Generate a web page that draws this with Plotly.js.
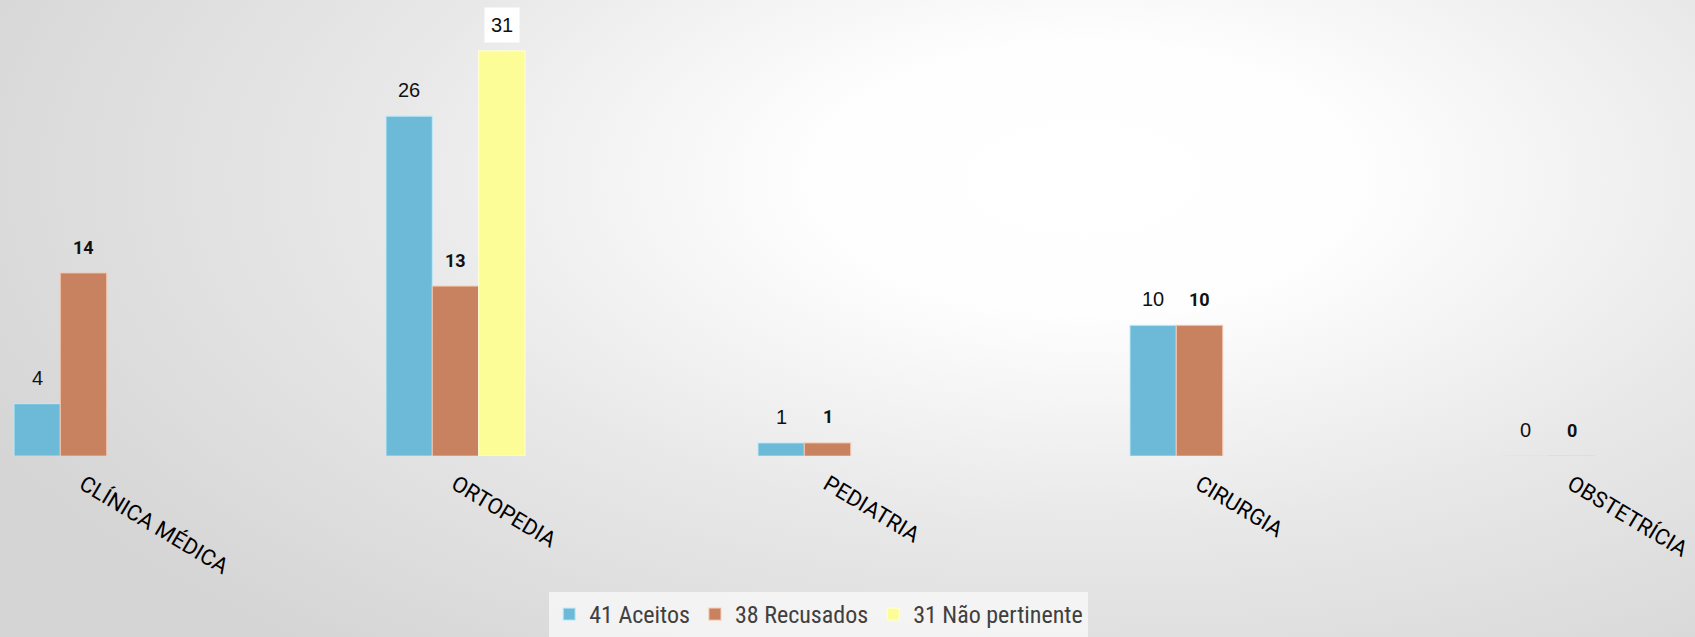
<!DOCTYPE html>
<html>
<head>
<meta charset="utf-8">
<script src="https://cdn.plot.ly/plotly-3.0.1.min.js"></script>
<style>
  html, body { margin: 0; padding: 0; }
  body {
    width: 1695px; height: 637px; overflow: hidden;
    background: radial-gradient(ellipse 72% 95% at 64% 28%, #ffffff 0%, #fefefe 22%, #e8e8e8 58%, #d5d5d5 100%);
  }
  #chart { width: 1695px; height: 637px; }
</style>
</head>
<body>
<div id="chart"></div>
<script>
const categories = ["CLÍNICA MÉDICA", "ORTOPEDIA", "PEDIATRIA", "CIRURGIA", "OBSTETRÍCIA"];
const seriesNames = ["41 Aceitos", "38 Recusados", "31 Não pertinente"];
const aceitos = [4, 26, 1, 10, 0];
const recusados = [14, 13, 1, 10, 0];
const naoPertinente = [null, 31, null, null, null];

const seriesValues = [aceitos, recusados, naoPertinente];
const colors = ["#6cbad7", "#c9825f", "#fdfd98"];
const lineColors = ["rgba(190,235,250,0.8)", "rgba(245,200,175,0.8)", "rgba(255,255,210,0.9)"];

const traces = seriesValues.map((vals, i) => ({
  type: "bar",
  name: seriesNames[i],
  x: categories,
  y: vals,
  marker: { color: colors[i], line: { color: lineColors[i], width: 1.2 } },
  hoverinfo: "x+y"
}));

// data labels as annotations, placed through the axes
const barPx = 46.3;
const labelFonts = [
  { family: "Liberation Sans, Arial, sans-serif", size: 20, color: "#111" },
  { family: "Roboto, Liberation Sans, sans-serif", size: 18, color: "#111", weight: 700 },
  { family: "Liberation Sans, Arial, sans-serif", size: 20, color: "#111" }
];
const annotations = [];
seriesValues.forEach((vals, i) => {
  vals.forEach((v, j) => {
    if (v === null) return;
    annotations.push({
      x: categories[j], y: v, xref: "x", yref: "y",
      text: i === 1 ? "<b>" + v + "</b>" : String(v),
      showarrow: false,
      xshift: (i - 1) * barPx,
      yshift: 26,
      font: labelFonts[i],
      bgcolor: i === 2 ? "#ffffff" : "rgba(0,0,0,0)",
      borderpad: 6
    });
  });
});

const layout = {
  width: 1695, height: 637,
  margin: { l: 0, r: 0, t: 0, b: 181 },
  paper_bgcolor: "rgba(0,0,0,0)",
  plot_bgcolor: "rgba(0,0,0,0)",
  barmode: "group",
  bargap: 0.6263,
  bargroupgap: 0,
  showlegend: true,
  xaxis: {
    type: "category",
    range: [-0.2245, 4.332],
    tickangle: 31,
    showgrid: false, zeroline: false, showline: false,
    ticks: "outside", ticklen: 6, tickcolor: "rgba(0,0,0,0)",
    tickfont: { family: "Roboto, Noto Sans, sans-serif", size: 22, color: "#000" }
  },
  yaxis: {
    range: [0, 34.89],
    visible: false,
    showgrid: false, zeroline: false
  },
  legend: {
    orientation: "h",
    x: 0.483, xanchor: "center",
    yref: "container", y: 0.0, yanchor: "bottom",
    bgcolor: "rgba(250,250,250,0.75)",
    font: { family: "Liberation Sans Narrow, Roboto Condensed, DejaVu Sans Condensed, sans-serif", size: 24, color: "#404040" },
    itemwidth: 30,
    traceorder: "normal"
  },
  annotations: annotations
};

Plotly.newPlot("chart", traces, layout, { displayModeBar: false, staticPlot: true });
</script>
</body>
</html>
